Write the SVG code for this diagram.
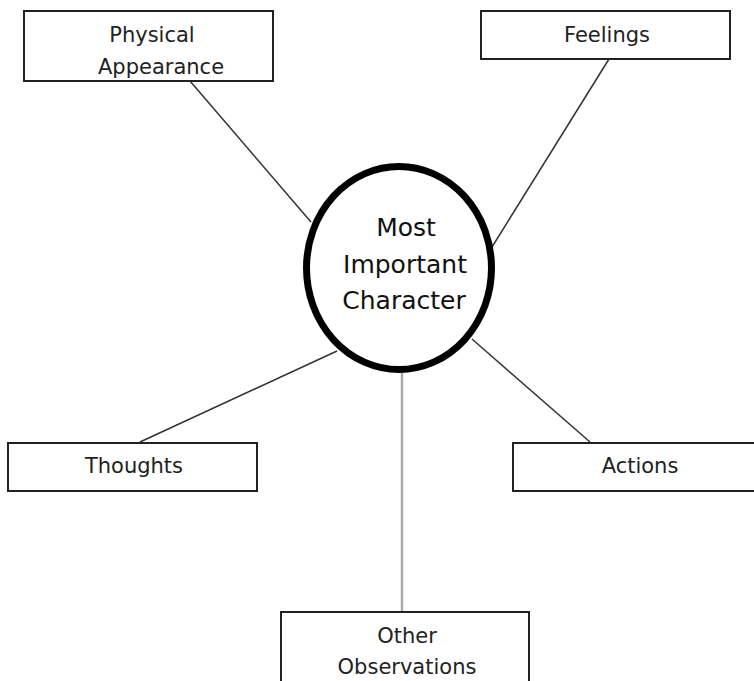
<svg xmlns="http://www.w3.org/2000/svg" width="754" height="681" viewBox="0 0 754 681">
<style>
.box{fill:#fff;stroke:#222;stroke-width:2}
.lbl{font-family:"Comic Sans MS","DejaVu Sans",sans-serif;font-size:21px;fill:#222;text-anchor:middle}
.big{font-size:25px;fill:#111}
.con{stroke:#333;stroke-width:1.5;fill:none}
</style>
<rect width="754" height="681" fill="#fff"/>
<g id="connectors">
<line class="con" x1="190" y1="81" x2="311" y2="222"/>
<line class="con" x1="609" y1="59" x2="492" y2="247"/>
<line class="con" x1="140" y1="442" x2="337" y2="351"/>
<line class="con" x1="472" y1="339" x2="590" y2="442"/>
<line x1="402" y1="372" x2="402" y2="612" stroke="#aaa" stroke-width="2.5"/>
</g>
<g id="physical">
<rect class="box" x="24" y="11" width="249" height="70"/>
<text class="lbl" x="152" y="42">Physical</text>
<text class="lbl" x="161" y="74">Appearance</text>
</g>
<g id="feelings">
<rect class="box" x="481" y="11" width="249" height="48"/>
<text class="lbl" x="607" y="42">Feelings</text>
</g>
<g id="center">
<ellipse cx="399" cy="268" rx="92.5" ry="101.5" fill="#fff" stroke="#000" stroke-width="7"/>
<text class="lbl big" x="406" y="236">Most</text>
<text class="lbl big" x="405" y="273">Important</text>
<text class="lbl big" x="404" y="309">Character</text>
</g>
<g id="thoughts">
<rect class="box" x="8" y="443" width="249" height="48"/>
<text class="lbl" x="134" y="473">Thoughts</text>
</g>
<g id="actions">
<rect class="box" x="513" y="443" width="250" height="48"/>
<text class="lbl" x="640" y="473">Actions</text>
</g>
<g id="other">
<rect class="box" x="281" y="612" width="248" height="80"/>
<text class="lbl" x="407" y="643">Other</text>
<text class="lbl" x="407" y="674">Observations</text>
</g>
</svg>
